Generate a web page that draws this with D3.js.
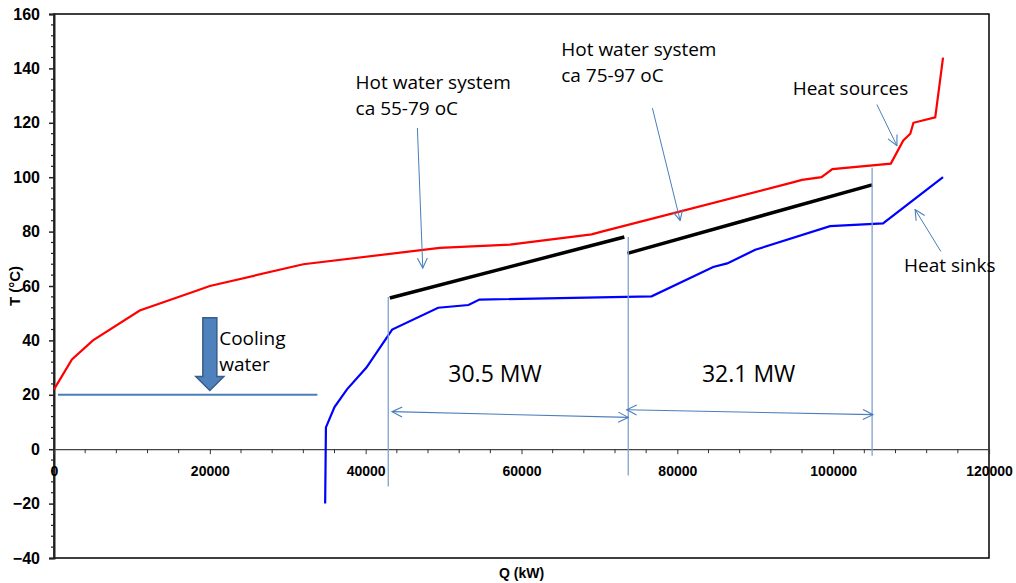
<!DOCTYPE html>
<html>
<head>
<meta charset="utf-8">
<script src="https://cdn.jsdelivr.net/npm/d3@7"></script>
<style>
  body { margin: 0; background: #fff; }
  svg { display: block; }
  .tick-lbl { font-family: Arial, "Liberation Sans", sans-serif; font-weight: bold; fill: #000; }
  .note { font-family: "Open Sans", sans-serif; fill: #000; }
</style>
</head>
<body>
<svg id="svg" width="1016" height="583"></svg>
<script>
// composite curves, Q in kW, T in degC
var sourceQ = [0, 2300, 5000, 11000, 18000, 20000, 32000, 49500, 58500, 69000, 70300, 94700, 96000, 98500, 99900, 107400, 109000, 109900, 110300, 113100, 114100];
var sourceT = [22, 33, 40, 51, 58, 60, 68, 74, 75.2, 79, 80, 98, 99, 100, 103, 105, 113.5, 116, 120, 122, 144];

var sinkQ = [34800, 34900, 36000, 37600, 40100, 43400, 49300, 53200, 54600, 76700, 84600, 86400, 90000, 99600, 106400, 114100];
var sinkT = [-20, 8, 15.5, 22, 30, 44, 52, 53, 55, 56.2, 67, 68.3, 73.3, 82, 83, 100];

// hot water systems
var hw1Q = [43100, 73200], hw1T = [55.6, 78];
var hw2Q = [73600, 105000], hw2T = [72, 97.2];

// cooling water
var coolQ = [500, 33800], coolT = [20, 20];

// duty split markers
var splitQ = [42900, 73700, 105000];
var splitTopT = [56, 78, 103.5];
var splitBotT = [-13.7, -9.7, -2.4];
var dutyLabels = ["30.5 MW", "32.1 MW"];
var dutyQ = [56600, 89150];

var xTicks = [0, 20000, 40000, 60000, 80000, 100000, 120000];
var yTicks = [-40, -20, 0, 20, 40, 60, 80, 100, 120, 140, 160];

var svg = d3.select("#svg");

var x = d3.scaleLinear().domain([0, 120000]).range([54, 989]);
var y = d3.scaleLinear().domain([-40, 160]).range([558, 14]);

var blueLine = "#4A7EBB";

// frame
svg.append("rect")
  .attr("x", 54).attr("y", 14)
  .attr("width", 989 - 54).attr("height", 558 - 14)
  .attr("fill", "none").attr("stroke", "#000").attr("stroke-width", 1.5);

// y axis
var yAxis = d3.axisLeft(y).tickValues(yTicks).tickSize(5).tickPadding(9);
var gy = svg.append("g").attr("transform", "translate(54,0)").call(yAxis);
gy.select(".domain").attr("stroke", "#222").attr("stroke-width", 2);
gy.selectAll(".tick line").attr("stroke", "#222").attr("stroke-width", 1.5);
gy.selectAll("text").attr("class", "tick-lbl").style("font-size", "16px");
// minor y ticks
svg.append("g").selectAll("line")
  .data(d3.range(-40, 161, 4).filter(function(d) { return d % 20 != 0; }))
  .enter().append("line")
  .attr("x1", 51).attr("x2", 54)
  .attr("y1", function(d) { return y(d); }).attr("y2", function(d) { return y(d); })
  .attr("stroke", "#222").attr("stroke-width", 1.2);

// x axis at T = 0
var xAxis = d3.axisBottom(x).tickValues(xTicks).tickSize(5).tickPadding(12).tickFormat(d3.format("d"));
var gx = svg.append("g").attr("transform", "translate(0," + y(0) + ")").call(xAxis);
gx.select(".domain").attr("stroke", "#444").attr("stroke-width", 1.2);
gx.selectAll(".tick line").attr("stroke", "#333");
gx.selectAll("text").attr("class", "tick-lbl").style("font-size", "14px");
svg.append("g").selectAll("line")
  .data(d3.range(0, 120001, 4000).filter(function(d) { return d % 20000 != 0; }))
  .enter().append("line")
  .attr("x1", function(d) { return x(d); }).attr("x2", function(d) { return x(d); })
  .attr("y1", y(0)).attr("y2", y(0) + 4)
  .attr("stroke", "#333").attr("stroke-width", 1);

// axis titles
svg.append("text").attr("class", "tick-lbl")
  .attr("transform", "translate(20,286) rotate(-90)")
  .attr("text-anchor", "middle").style("font-size", "15px")
  .text("T (°C)");
svg.append("text").attr("class", "tick-lbl")
  .attr("x", (54 + 989) / 2).attr("y", 578)
  .attr("text-anchor", "middle").style("font-size", "14px")
  .text("Q (kW)");

// arrow markers
var defs = svg.append("defs");
defs.append("marker").attr("id", "head")
  .attr("viewBox", "0 0 12 12").attr("refX", 11).attr("refY", 6)
  .attr("markerWidth", 12).attr("markerHeight", 12).attr("markerUnits", "userSpaceOnUse")
  .attr("orient", "auto-start-reverse")
  .append("path").attr("d", "M1,1 L11,6 L1,11")
  .attr("fill", "none").attr("stroke", blueLine).attr("stroke-width", 1.1);

var line = d3.line().x(function(d) { return x(d[0]); }).y(function(d) { return y(d[1]); });

// curves
svg.append("path").datum(d3.zip(sourceQ, sourceT))
  .attr("d", line).attr("fill", "none").attr("stroke", "#FF0000").attr("stroke-width", 2.2);
svg.append("path").datum(d3.zip(sinkQ, sinkT))
  .attr("d", line).attr("fill", "none").attr("stroke", "#0000FF").attr("stroke-width", 2.2);
svg.append("path").datum(d3.zip(hw1Q, hw1T))
  .attr("d", line).attr("fill", "none").attr("stroke", "#000").attr("stroke-width", 3.5);
svg.append("path").datum(d3.zip(hw2Q, hw2T))
  .attr("d", line).attr("fill", "none").attr("stroke", "#000").attr("stroke-width", 3.5);

// cooling water
svg.append("path").datum(d3.zip(coolQ, coolT))
  .attr("d", line).attr("fill", "none").attr("stroke", blueLine).attr("stroke-width", 2);

// split markers
svg.append("g").selectAll("line").data(splitQ).enter().append("line")
  .attr("x1", function(d) { return x(d); }).attr("x2", function(d) { return x(d); })
  .attr("y1", function(d, i) { return y(splitTopT[i]); })
  .attr("y2", function(d, i) { return y(splitBotT[i]); })
  .attr("stroke", "#7FA2D0").attr("stroke-width", 1.3);

// duty span arrows
var spans = [
  [[43400, 13.8], [73700, 11.7]],
  [[73500, 14.5], [105100, 12.7]]
];
svg.append("g").selectAll("path").data(spans).enter().append("path")
  .attr("d", line).attr("fill", "none").attr("stroke", blueLine).attr("stroke-width", 1.1)
  .attr("marker-start", "url(#head)").attr("marker-end", "url(#head)");

// pointer arrows
var pointers = [
  [[46640, 118.1], [47330, 66.6]],
  [[76800, 125.4], [80360, 84.1]],
  [[105610, 126.7], [108180, 111.6]],
  [[113820, 72.7], [110520, 88.1]]
];
svg.append("g").selectAll("path").data(pointers).enter().append("path")
  .attr("d", line).attr("fill", "none").attr("stroke", blueLine).attr("stroke-width", 1)
  .attr("marker-end", "url(#head)");

// cooling water block arrow
var cq = 20000, ctop = 48.3, ctip = 21.6;
var cx = x(cq), cyTop = y(ctop), cyTip = y(ctip), cyHead = cyTip - 14;
svg.append("path")
  .attr("d", "M" + (cx - 7) + "," + cyTop + " L" + (cx + 7) + "," + cyTop +
    " L" + (cx + 7) + "," + cyHead + " L" + (cx + 14) + "," + cyHead +
    " L" + cx + "," + cyTip + " L" + (cx - 14) + "," + cyHead +
    " L" + (cx - 7) + "," + cyHead + " Z")
  .attr("fill", "#4F81BD").attr("stroke", "#385D8A").attr("stroke-width", 1.5);

// notes
var notes = [
  { q: 38700, t: 132.5, lines: ["Hot water system", "ca 55-79 oC"] },
  { q: 65100, t: 144.6, lines: ["Hot water system", "ca 75-97 oC"] },
  { q: 94800, t: 130.3, lines: ["Heat sources"] },
  { q: 109100, t: 65.2, lines: ["Heat sinks"] },
  { q: 21200, t: 38.4, lines: ["Cooling", "water"] }
];
notes.forEach(function(n) {
  var t = svg.append("text").attr("class", "note").style("font-size", "19px")
    .attr("x", x(n.q)).attr("y", y(n.t));
  n.lines.forEach(function(s, i) {
    t.append("tspan").attr("x", x(n.q)).attr("dy", i == 0 ? 0 : 26).text(s);
  });
});

svg.append("g").selectAll("text").data(dutyLabels).enter().append("text")
  .attr("class", "note").style("font-size", "23px")
  .attr("x", function(d, i) { return x(dutyQ[i]); })
  .attr("y", y(24.7))
  .attr("text-anchor", "middle")
  .text(function(d) { return d; });
</script>
</body>
</html>
